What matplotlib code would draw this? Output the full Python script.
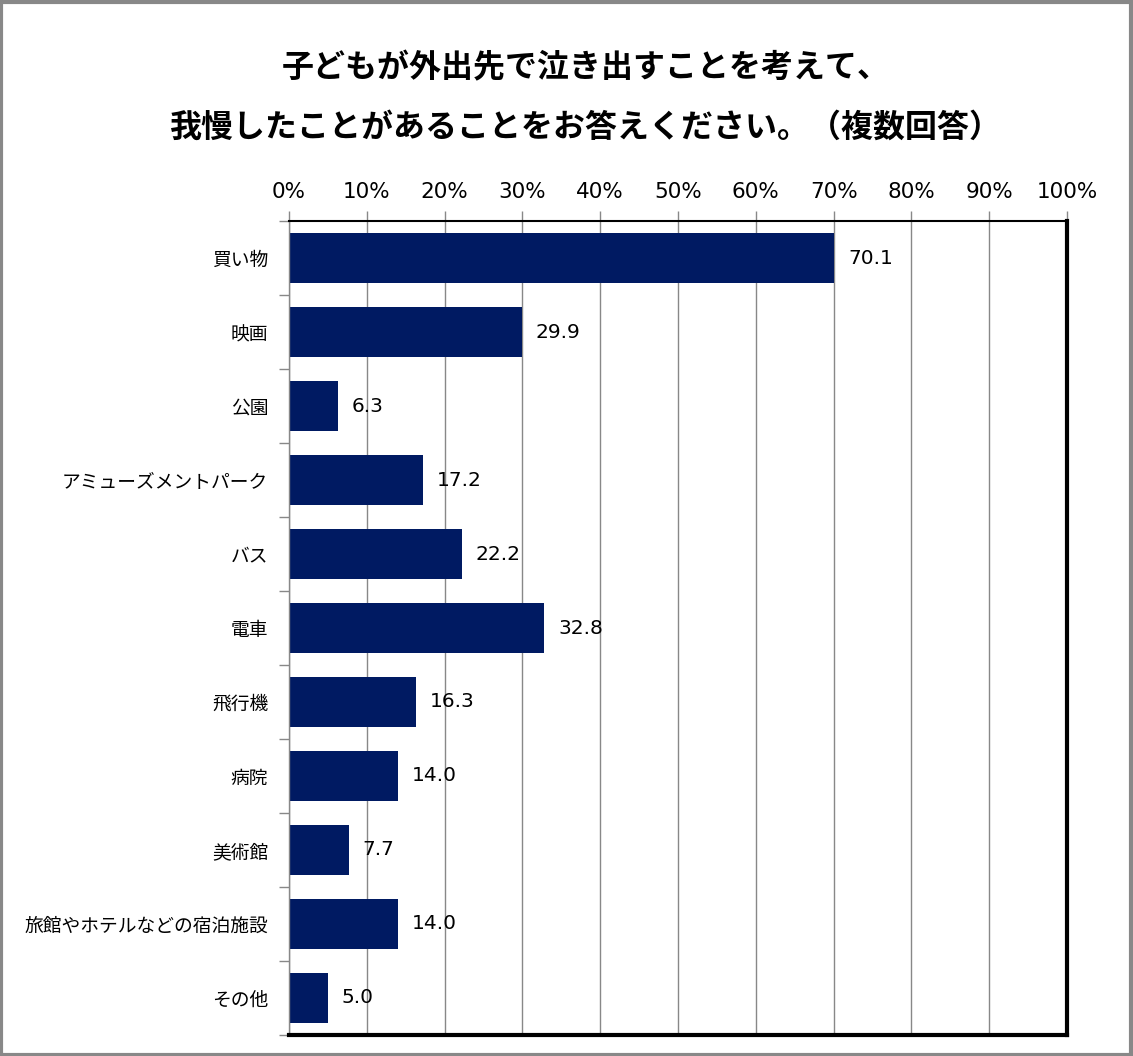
import matplotlib.pyplot as plt
from matplotlib.patches import Rectangle

plt.rcParams['font.family'] = ['Noto Sans CJK JP', 'DejaVu Sans']

# data
categories = ['買い物', '映画', '公園', 'アミューズメントパーク', 'バス', '電車',
              '飛行機', '病院', '美術館', '旅館やホテルなどの宿泊施設', 'その他']
values = [70.1, 29.9, 6.3, 17.2, 22.2, 32.8, 16.3, 14.0, 7.7, 14.0, 5.0]
xticks = list(range(0, 101, 10))
xtick_labels = [str(t) + '%' for t in xticks]
title_lines = ['子どもが外出先で泣き出すことを考えて、',
               '我慢したことがあることをお答えください。（複数回答）']

bar_color = '#001A62'

fig = plt.figure(figsize=(11.33, 10.56), dpi=100)
ax = fig.add_axes([0.2551, 0.0199, 0.6867, 0.7708])

ypos = list(range(len(categories)))
ax.barh(ypos, values, height=0.675, color=bar_color, zorder=3)

# value labels to the right of each bar
for y, v in zip(ypos, values):
    ax.annotate(f'{v:.1f}', xy=(v, y), xytext=(10, 0), textcoords='offset points',
                ha='left', va='center', fontsize=14.5, family='DejaVu Sans', zorder=4)

ax.set_xlim(0, 100)
ax.set_ylim(len(categories) - 0.5, -0.5)

# percent axis on top
ax.xaxis.tick_top()
ax.set_xticks(xticks)
ax.set_xticklabels(xtick_labels, fontsize=15.5, family='DejaVu Sans')
ax.tick_params(axis='x', length=7, width=1, color='#888888', pad=7)
ax.grid(axis='x', color='#888888', linewidth=1, zorder=0)

# category labels, ticks at boundaries
ax.set_yticks(ypos)
ax.set_yticklabels(categories, fontsize=13.5)
ax.tick_params(axis='y', length=0, pad=15)
ax.set_yticks([y + 0.5 for y in range(-1, len(categories))], minor=True)
ax.tick_params(axis='y', which='minor', length=7, width=1, color='#888888')

ax.spines['top'].set_linewidth(1.5)
ax.spines['right'].set_linewidth(3)
ax.spines['bottom'].set_linewidth(3)
ax.spines['left'].set_color('#888888')
ax.spines['left'].set_linewidth(1)
for s in ax.spines.values():
    s.set_zorder(5)

# title
fig.text(0.517, 1 - 68 / 1056, title_lines[0], ha='center', va='center',
         fontsize=23, fontweight='bold')
fig.text(0.517, 1 - 128 / 1056, title_lines[1], ha='center', va='center',
         fontsize=23, fontweight='bold')

# grey outer border
fig.patches.append(Rectangle((0.001, 0.001), 0.997, 0.997, transform=fig.transFigure,
                             fill=False, edgecolor='#888888', linewidth=3))

fig.savefig('out.png', dpi=100)
